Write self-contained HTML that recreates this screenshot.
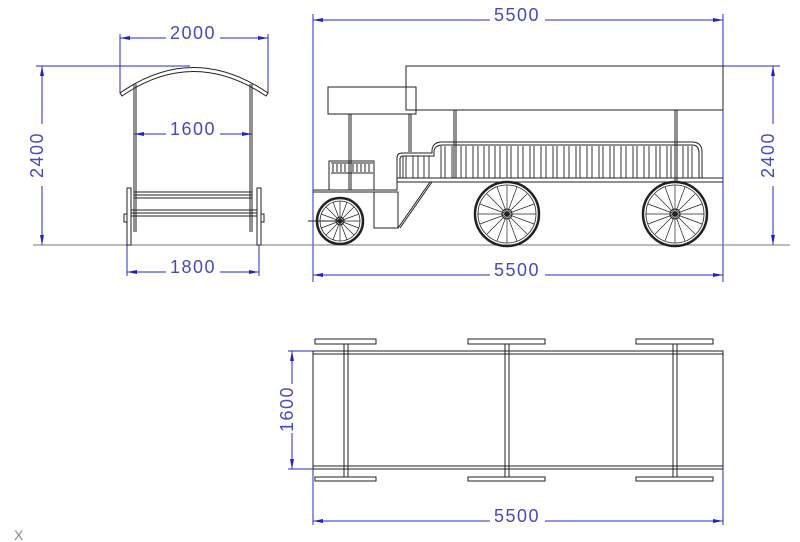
<!DOCTYPE html>
<html><head><style>
html,body{margin:0;padding:0;background:#fff;}
svg{display:block;}
text{font-family:"Liberation Sans",sans-serif;font-size:18px;letter-spacing:1.5px;fill:#4848c0;}
</style></head><body>
<svg width="800" height="542" viewBox="0 0 800 542" xmlns="http://www.w3.org/2000/svg">
<defs>
<marker id="a" viewBox="0 0 10 6" refX="10" refY="3" markerWidth="10" markerHeight="6" orient="auto-start-reverse"><path d="M0,1 L10,3 L0,5z" fill="#2222cc"/></marker>
</defs>
<g stroke="#2a2acc" stroke-width="1" fill="none">
<line x1="313" y1="14" x2="313" y2="282"/><line x1="723" y1="14" x2="723" y2="282"/>
<line x1="313" y1="20" x2="490" y2="20" marker-start="url(#a)"/><line x1="545" y1="20" x2="723" y2="20" marker-end="url(#a)"/>
<line x1="313" y1="275" x2="490" y2="275" marker-start="url(#a)"/><line x1="545" y1="275" x2="723" y2="275" marker-end="url(#a)"/>
<line x1="723" y1="66" x2="780" y2="66"/><line x1="723" y1="245" x2="780" y2="245"/>
<line x1="773" y1="66" x2="773" y2="124" marker-start="url(#a)"/><line x1="773" y1="186" x2="773" y2="245" marker-end="url(#a)"/>
<line x1="36" y1="66" x2="190" y2="66"/>
<line x1="42" y1="66" x2="42" y2="124" marker-start="url(#a)"/><line x1="42" y1="186" x2="42" y2="245" marker-end="url(#a)"/>
<line x1="120" y1="34" x2="120" y2="93"/><line x1="268" y1="34" x2="268" y2="93"/>
<line x1="120" y1="38" x2="166" y2="38" marker-start="url(#a)"/><line x1="220" y1="38" x2="268" y2="38" marker-end="url(#a)"/>
<line x1="134" y1="134" x2="166" y2="134" marker-start="url(#a)"/><line x1="220" y1="134" x2="252" y2="134" marker-end="url(#a)"/>
<line x1="127" y1="245" x2="127" y2="276"/><line x1="259" y1="245" x2="259" y2="276"/>
<line x1="127" y1="272" x2="166" y2="272" marker-start="url(#a)"/><line x1="220" y1="272" x2="259" y2="272" marker-end="url(#a)"/>
<line x1="288" y1="351" x2="313" y2="351"/><line x1="288" y1="469" x2="313" y2="469"/>
<line x1="292" y1="351" x2="292" y2="384" marker-start="url(#a)"/><line x1="292" y1="433" x2="292" y2="469" marker-end="url(#a)"/>
<line x1="313" y1="469" x2="313" y2="525"/><line x1="723" y1="469" x2="723" y2="525"/>
<line x1="313" y1="521" x2="490" y2="521" marker-start="url(#a)"/><line x1="545" y1="521" x2="723" y2="521" marker-end="url(#a)"/>
</g>
<text x="517" y="21" text-anchor="middle">5500</text>
<text x="517" y="276" text-anchor="middle">5500</text>
<text x="517" y="522" text-anchor="middle">5500</text>
<text x="193" y="39" text-anchor="middle">2000</text>
<text x="193" y="135" text-anchor="middle">1600</text>
<text x="193" y="273" text-anchor="middle">1800</text>
<text transform="translate(43,155) rotate(-90)" text-anchor="middle">2400</text>
<text transform="translate(774,155) rotate(-90)" text-anchor="middle">2400</text>
<text transform="translate(293,409) rotate(-90)" text-anchor="middle">1600</text>
<text x="14" y="540" style="fill:#888;font-size:14px">X</text>
<line x1="33" y1="245" x2="790" y2="245" stroke="#777" stroke-width="1"/>
<g stroke="#222" stroke-width="1" fill="none">
<path d="M120,93 Q193,42 268,93 L266,96 Q193,47 122,96z"/>
<line x1="134" y1="84" x2="134" y2="232"/><line x1="136" y1="84" x2="136" y2="232"/>
<line x1="252" y1="84" x2="252" y2="232"/><line x1="250" y1="84" x2="250" y2="232"/>
<rect x="127" y="188" width="4" height="57"/><rect x="257" y="188" width="4" height="57"/>
<line x1="134" y1="192" x2="252" y2="192"/><line x1="134" y1="195" x2="252" y2="195"/><line x1="134" y1="198" x2="252" y2="198"/>
<line x1="131" y1="210" x2="257" y2="210"/><line x1="131" y1="213" x2="257" y2="213"/><line x1="131" y1="216" x2="257" y2="216"/>
<rect x="124" y="214" width="3" height="8"/><rect x="261" y="214" width="3" height="8"/>
<rect x="406" y="66" width="317" height="44"/>
<rect x="328" y="87" width="88" height="27"/>
<line x1="349" y1="114" x2="349" y2="190"/><line x1="351" y1="114" x2="351" y2="190"/>
<line x1="409" y1="114" x2="409" y2="152"/><line x1="411" y1="114" x2="411" y2="152"/>
<line x1="454" y1="110" x2="454" y2="178"/><line x1="456" y1="110" x2="456" y2="178"/>
<line x1="675" y1="110" x2="675" y2="182"/><line x1="677" y1="110" x2="677" y2="182"/>
<path d="M397,178 L397,158 Q397,153 402,153 L432,153 L432,150 Q433,142 442,142 L692,142 Q702,142 702,152 L702,178"/>
<path d="M400,178 L400,159 Q400,156 403,156 L434,156 L434,151 Q435,145 443,145 L692,145 Q699,145 699,153 L699,178"/>
<line x1="397" y1="178" x2="723" y2="178"/><line x1="397" y1="182" x2="723" y2="182"/>
<g stroke-width="0.9">
<path d="M403,156V178M406,156V178M413,156V178M418,156V178M424,156V178M429,156V178"/>
<path d="M441,146V178M445,146V178M452,146V178M461,146V178M466,146V178M473,146V178M478,146V178M484,146V178M489,146V178M495,146V178M500,146V178M507,146V178M511,146V178M518,146V178M523,146V178M530,146V178M534,146V178M541,146V178M546,146V178M553,146V178M557,146V178M564,146V178M569,146V178M576,146V178M580,146V178M587,146V178M592,146V178M599,146V178M603,146V178M610,146V178M614,146V178M621,146V178M626,146V178M633,146V178M637,146V178M644,146V178M649,146V178M656,146V178M660,146V178M667,146V178M671,146V178M683,146V178M688,146V178M692,146V178"/>
</g>
<path d="M313,190 L397,190 L397,178 M313,192 L397,192"/>
<rect x="329" y="161" width="45" height="29"/>
<path d="M331,163H373M331,173H373M333,164V172M337,164V172M341,164V172M345,164V172M353,164V172M357,164V172M361,164V172M365,164V172M369,164V172"/>
<rect x="374" y="192" width="24" height="36"/>
<line x1="398" y1="228" x2="430" y2="182"/><line x1="400" y1="228" x2="432" y2="182"/>
<line x1="308" y1="221" x2="340" y2="221"/>
</g>
<g stroke="#222" fill="none">
<g transform="translate(340,221)">
<circle r="23" stroke-width="2.5"/><circle r="20" stroke-width="0.8"/><circle r="4"/><circle r="1.5"/>
<path d="M0,-20V20M-20,0H20M-14,-14L14,14M-14,14L14,-14M-7,-19L7,19M7,-19L-7,19M-19,-7L19,7M-19,7L19,-7" stroke-width="0.7"/>
</g>
<g transform="translate(507,214)">
<circle r="32" stroke-width="2.5"/><circle r="29" stroke-width="0.8"/><circle r="5"/><circle r="2"/>
<path d="M0,-29V29M-29,0H29M-20,-20L20,20M-20,20L20,-20M-10,-27L10,27M10,-27L-10,27M-27,-10L27,10M-27,10L27,-10" stroke-width="0.7"/>
</g>
<g transform="translate(675,214)">
<circle r="32" stroke-width="2.5"/><circle r="29" stroke-width="0.8"/><circle r="5"/><circle r="2"/>
<path d="M0,-29V29M-29,0H29M-20,-20L20,20M-20,20L20,-20M-10,-27L10,27M10,-27L-10,27M-27,-10L27,10M-27,10L27,-10" stroke-width="0.7"/>
</g>
</g>
<g stroke="#222" stroke-width="1" fill="none">
<rect x="313" y="351" width="410" height="118"/>
<line x1="313" y1="354" x2="723" y2="354"/><line x1="313" y1="466" x2="723" y2="466"/>
<rect x="315" y="339" width="61" height="5"/><rect x="468" y="339" width="77" height="5"/><rect x="636" y="339" width="77" height="5"/>
<rect x="315" y="477" width="61" height="4"/><rect x="468" y="477" width="77" height="4"/><rect x="636" y="477" width="77" height="4"/>
<path d="M344,344V477M348,344V477M505,344V477M509,344V477M673,344V477M677,344V477"/>
</g>
</svg>
</body></html>
